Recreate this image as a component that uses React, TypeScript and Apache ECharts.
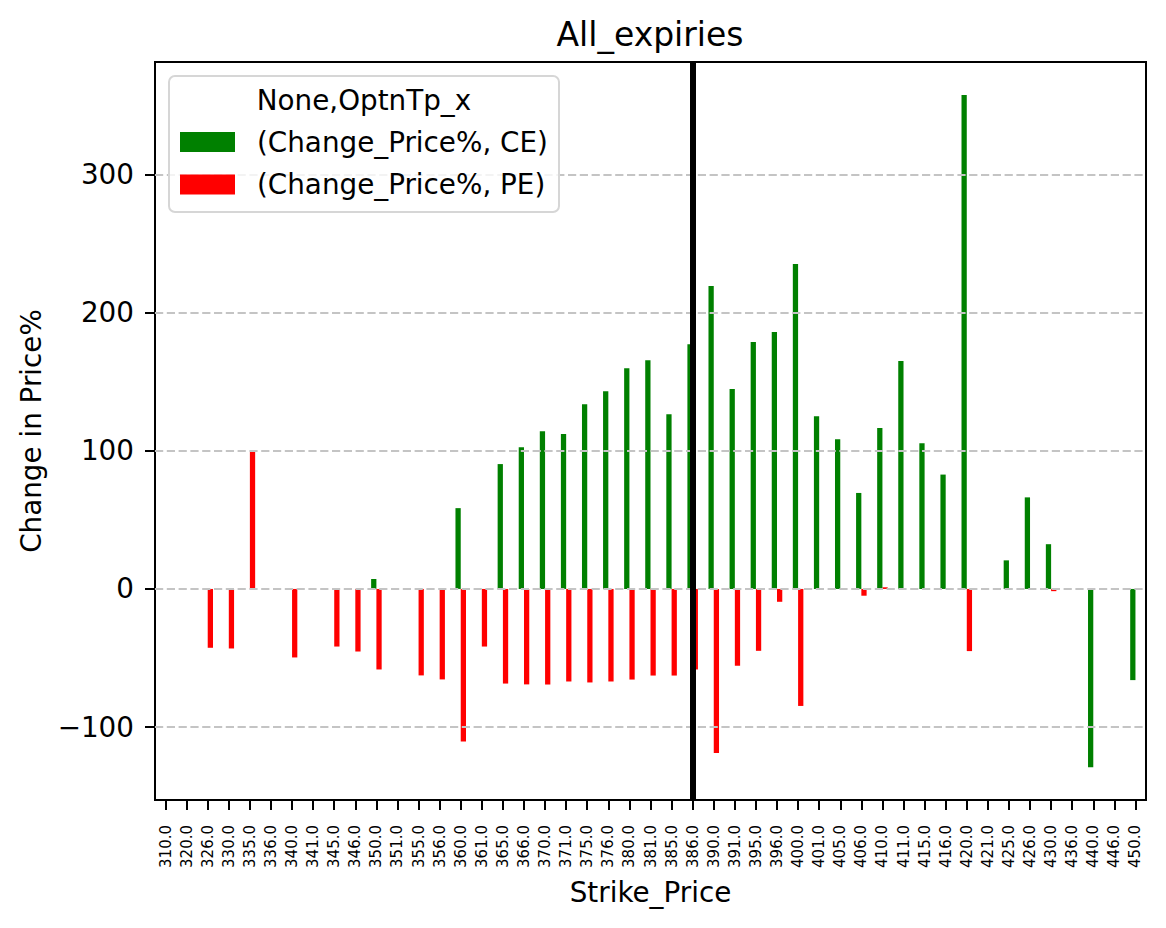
import React, { useEffect, useRef } from "react";
import * as echarts from "echarts";

const categories = [
  "310.0", "320.0", "326.0", "330.0", "335.0", "336.0", "340.0", "341.0", "345.0", "346.0",
  "350.0", "351.0", "355.0", "356.0", "360.0", "361.0", "365.0", "366.0", "370.0", "371.0",
  "375.0", "376.0", "380.0", "381.0", "385.0", "386.0", "390.0", "391.0", "395.0", "396.0",
  "400.0", "401.0", "405.0", "406.0", "410.0", "411.0", "415.0", "416.0", "420.0", "421.0",
  "425.0", "426.0", "430.0", "436.0", "440.0", "446.0", "450.0",
];

const ceValues: (number | null)[] = [
  null, null, null, null, null, null, null, null, null, null,
  7.2, null, null, null, 58.5, null, 90.4, 102.6, 114.2, 112.1,
  133.8, 143.2, 159.8, 165.6, 126.5, 177.1, 219.3, 144.7, 178.7, 186.0,
  235.3, 125.1, 108.4, 69.5, 116.5, 165.0, 105.5, 82.8, 357.6, null,
  20.7, 66.3, 32.4, null, -129.1, null, -66.0,
];

const peValues: (number | null)[] = [
  null, null, -42.6, -43.1, 99.4, null, -49.6, null, -41.7, -45.3,
  -58.3, null, -62.6, -65.5, -110.4, -41.7, -68.5, -69.1, -69.2, -67.0,
  -67.7, -67.0, -65.6, -62.7, -62.7, -58.3, -118.7, -55.6, -44.8, -9.3,
  -84.7, null, null, -4.9, 1.2, null, null, null, -45.0, null,
  null, null, -1.6, null, null, null, null,
];

const yTicks = [-100, 0, 100, 200, 300];
const markerStrike = "386.0";
const ceName = "(Change_Price%, CE)";
const peName = "(Change_Price%, PE)";
const legendTitle = "None,OptnTp_x";

const FONT = "DejaVu Sans";

export default function App() {
  const ref = useRef<HTMLDivElement>(null);

  useEffect(() => {
    if (!ref.current) return;
    const chart = echarts.init(ref.current, null, { renderer: "svg" });
    const option: any = {
      animation: false,
      backgroundColor: "#ffffff",
      title: {
        text: "All_expiries",
        left: 650,
        top: 18,
        textAlign: "center",
        padding: 0,
        textStyle: { fontFamily: FONT, fontSize: 33, fontWeight: "normal", color: "#000" },
      },
      legend: {
        orient: "vertical",
        left: 180,
        top: 128,
        padding: 0,
        itemWidth: 55,
        itemHeight: 20,
        itemGap: 14.5,
        icon: "rect",
        z: 120,
        selectedMode: false,
        textStyle: { fontFamily: FONT, fontSize: 27.8, color: "#000", padding: [0, 0, 0, 17] },
        data: [ceName, peName],
      },
      graphic: [
        {
          type: "rect",
          z: 100,
          shape: { x: 169, y: 76, width: 390, height: 136, r: 6 },
          style: { fill: "rgba(255,255,255,0.8)", stroke: "#d6d6d6", lineWidth: 2 },
          silent: true,
        },
        {
          type: "text",
          z: 110,
          x: 364,
          y: 100,
          style: {
            text: legendTitle,
            fontFamily: FONT,
            fontSize: 27.8,
            fill: "#000",
            align: "center",
            verticalAlign: "middle",
          },
          silent: true,
        },
      ],
      grid: {
        left: 155,
        right: 20,
        top: 62,
        bottom: 128,
        show: true,
        borderColor: "#000",
        borderWidth: 2,
        backgroundColor: "transparent",
      },
      xAxis: {
        type: "category",
        data: categories,
        name: "Strike_Price",
        nameLocation: "middle",
        nameGap: 78,
        nameTextStyle: { fontFamily: FONT, fontSize: 27.8, color: "#000" },
        axisLine: { show: false, onZero: false },
        axisTick: { show: true, alignWithLabel: true, interval: 0, length: 10, lineStyle: { color: "#000", width: 2 } },
        axisLabel: {
          interval: 0,
          rotate: 90,
          fontFamily: FONT,
          fontSize: 15,
          color: "#000",
          margin: 25,
        },
        splitLine: { show: false },
      },
      yAxis: {
        type: "value",
        min: -152.8,
        max: 381.5,
        name: "Change in Price%",
        nameLocation: "middle",
        nameGap: 110,
        nameRotate: 90,
        nameTextStyle: { fontFamily: FONT, fontSize: 27.8, color: "#000" },
        axisLine: { show: false },
        axisTick: { show: true, length: 10, customValues: yTicks, lineStyle: { color: "#000", width: 2 } },
        axisLabel: {
          customValues: yTicks,
          fontFamily: FONT,
          fontSize: 27.8,
          color: "#000",
          margin: 21,
          formatter: (v: number) => (v < 0 ? "\u2212" + Math.abs(v) : String(v)),
        },
        splitLine: { show: false },
      },
      series: [
        {
          name: ceName,
          type: "bar",
          data: ceValues,
          barWidth: "25%",
          barGap: "0%",
          itemStyle: { color: "#008000" },
          markLine: {
            silent: true,
            symbol: ["none", "none"],
            label: { show: false },
            emphasis: { disabled: true },
            lineStyle: { color: "#c4c4c4", width: 2.2, type: [8.2, 3.6] },
            data: yTicks.map((v) => ({ yAxis: v })),
          },
        },
        {
          name: peName,
          type: "bar",
          data: peValues,
          barWidth: "25%",
          barGap: "0%",
          itemStyle: { color: "#ff0000" },
        },
        {
          name: "marker",
          type: "line",
          data: [],
          z: 5,
          markLine: {
            silent: true,
            symbol: ["none", "none"],
            label: { show: false },
            emphasis: { disabled: true },
            lineStyle: { color: "#000", width: 6, type: "solid" },
            data: [{ xAxis: markerStrike }],
          },
        },
      ],
    };
    chart.setOption(option);
    return () => chart.dispose();
  }, []);

  return (
    <div
      ref={ref}
      style={{ position: "absolute", left: 0, top: 0, width: 1166, height: 928, background: "#fff" }}
    />
  );
}
